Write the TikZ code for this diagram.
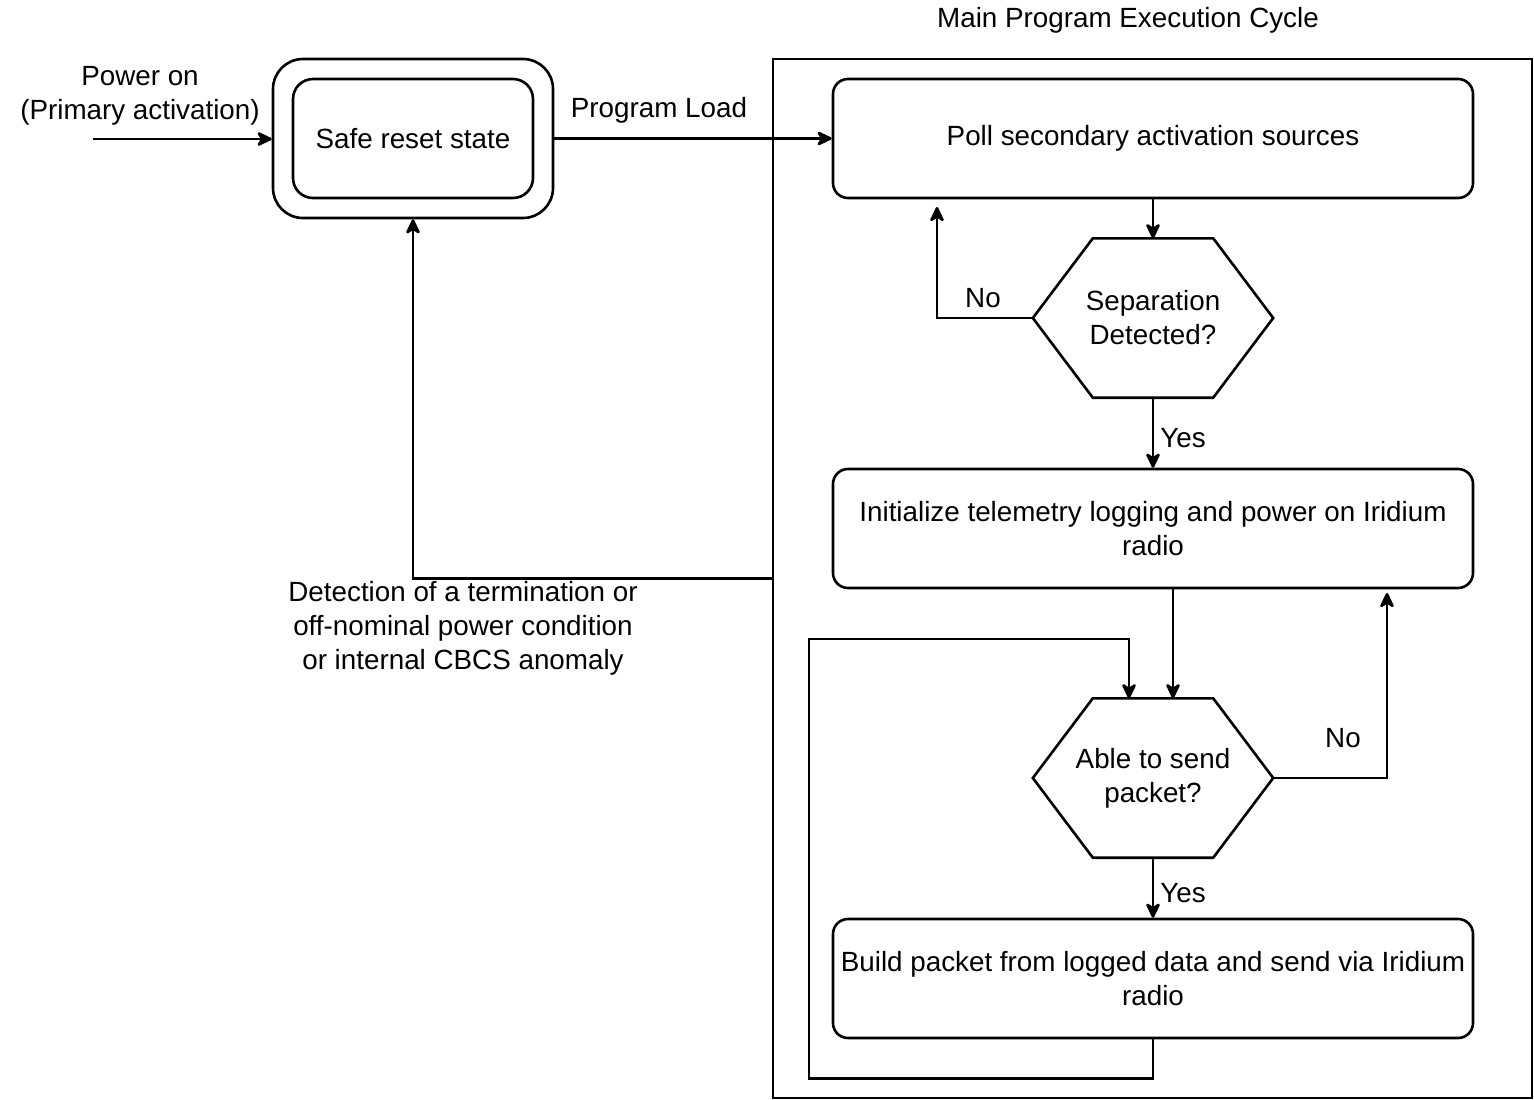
\documentclass[tikz,border=0pt]{standalone}
\usepackage{fontspec}
\setmainfont{Liberation Sans}
\usetikzlibrary{arrows.meta}
\begin{document}
\begin{tikzpicture}[x=1pt,y=-1pt,
  every node/.style={font=\fontsize{27.8}{34}\selectfont, align=center, inner sep=0pt},
  line/.style={line width=2.6pt, line join=miter},
  arr/.style={line, -{Stealth[length=18pt,width=17pt,inset=5.5pt,round]}},
  procbox/.style={draw, line width=2.6pt, rounded corners=15pt, minimum width=640pt, minimum height=119pt}
]
\useasboundingbox (0,0) rectangle (1534,1100);
% container
\node[draw, line width=2.6pt, minimum width=759pt, minimum height=1039pt] (cont) at (1152.5,578.5) {};
\node (title) at (1128,20) {Main Program Execution Cycle};
% safe reset state
\node[draw, line width=2.6pt, rounded corners=30pt, minimum width=280pt, minimum height=159pt] (safe) at (413,138.5) {};
\node[draw, line width=2.6pt, rounded corners=20pt, minimum width=240pt, minimum height=119pt] (safein) at (413,138.5) {Safe reset state};
\node (power) at (140,96) {Power on\\(Primary activation)};
\coordinate (pstart) at (93,139);
% process boxes
\node[procbox] (poll) at (1153,138.5) {Poll secondary activation sources};
\node[procbox] (init) at (1153,528.5) {Initialize telemetry logging and power on Iridium\\radio};
\node[procbox] (build) at (1153,978.5) {Build packet from logged data and send via Iridium\\radio};
% hexagons
\node[minimum width=240pt, minimum height=159pt] (sep) at (1153,318) {Separation\\Detected?};
\draw[line] (sep.west) -- ([xshift=60pt]sep.north west) -- ([xshift=-60pt]sep.north east) -- (sep.east) -- ([xshift=-60pt]sep.south east) -- ([xshift=60pt]sep.south west) -- cycle;
\node[minimum width=240pt, minimum height=159pt] (able) at (1153,778) {Able to send\\packet?};
\draw[line] (able.west) -- ([xshift=60pt]able.north west) -- ([xshift=-60pt]able.north east) -- (able.east) -- ([xshift=-60pt]able.south east) -- ([xshift=60pt]able.south west) -- cycle;
% connectors
\draw[arr] (pstart) -- (safe.west |- pstart);
\draw[arr] (safe.east) -- (poll.west);
\node (pload) at (659,110) {Program Load};
\draw[arr] (poll.south) -- (sep.north);
\coordinate (nosepend) at (937,207);
\draw[arr] (sep.west) -| (nosepend);
\node (no1) at (983,298) {No};
\draw[arr] (sep.south) -- (init.north);
\node (yes1) at (1183,438) {Yes};
\draw[arr] ([xshift=20pt]init.south) -- ([xshift=20pt]able.north);
\coordinate (noableend) at (1387,593);
\draw[arr] (able.east) -| (noableend);
\node (no2) at (1343,738) {No};
\draw[arr] (able.south) -- (build.north);
\node (yes2) at (1183,893) {Yes};
\coordinate (loopbr) at (1153,1078.5);
\coordinate (loopbl) at (809,1078.5);
\coordinate (looptl) at (809,639);
\draw[arr] (build.south) -- (loopbr) -- (loopbl) -- (looptl) -- ([xshift=-24pt]able.north |- looptl) -- ([xshift=-24pt]able.north);
\draw[arr] (cont.west) -- (safe.south |- cont.west) -- (safe.south);
\node (detect) at (463,628) {Detection of a termination or\\off-nominal power condition\\or internal CBCS anomaly};
\end{tikzpicture}
\end{document}
